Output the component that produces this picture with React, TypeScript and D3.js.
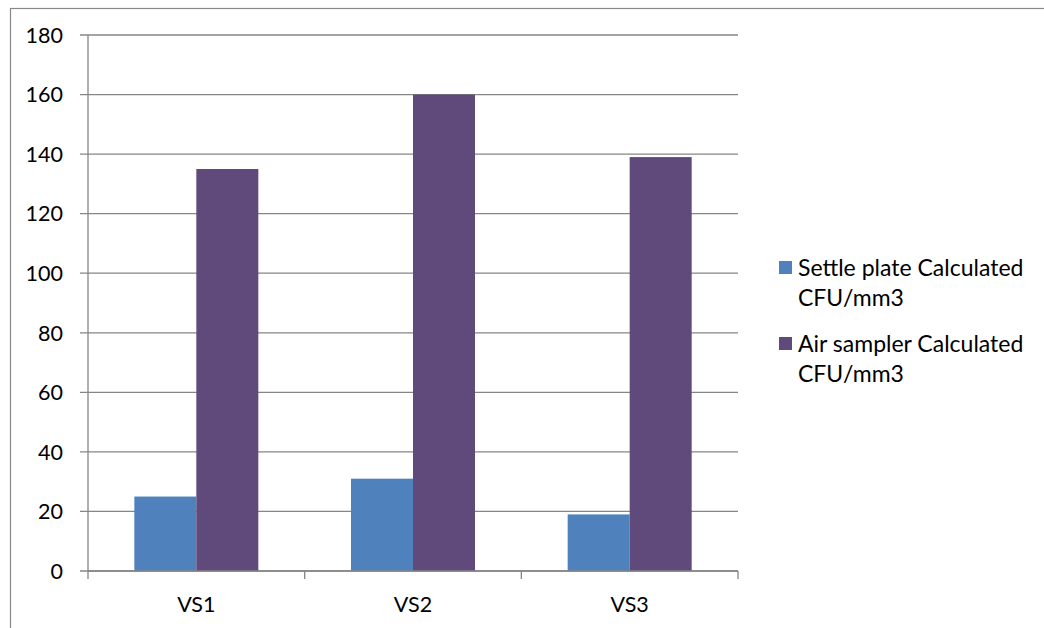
import React from "react";
import * as d3 from "d3";

const categories = ["VS1", "VS2", "VS3"];
const seriesNames = [
  ["Settle plate Calculated", "CFU/mm3"],
  ["Air sampler Calculated", "CFU/mm3"],
];
const settlePlate = [25, 31, 19];
const airSampler = [135, 160, 139];
const yTicks = [0, 20, 40, 60, 80, 100, 120, 140, 160, 180];
const colors = ["#4F81BD", "#604A7B"];

const W = 1044;
const H = 628;
const plot = { left: 88, right: 738, top: 35, bottom: 571 };
const font = "Lato, 'Open Sans', sans-serif";

export default function App() {
  const x = d3
    .scaleBand<string>()
    .domain(categories)
    .range([plot.left, plot.right])
    .paddingInner(0)
    .paddingOuter(0);
  const y = d3.scaleLinear().domain([0, 180]).range([plot.bottom, plot.top]);
  const groupWidth = 124;
  const inner = d3
    .scaleBand<number>()
    .domain([0, 1])
    .range([0, groupWidth]);
  const series = [settlePlate, airSampler];
  const grid = "#868686";

  const boundaries = [...categories.map((c) => x(c)!), plot.right];

  return (
    <svg
      width={W}
      height={H}
      style={{ position: "absolute", left: 0, top: 0, background: "#fff" }}
      fontFamily={font}
    >
      <rect x={10.5} y={8.5} width={W + 20} height={H + 20} fill="#fff" stroke="#888" strokeWidth={1.2} />
      {yTicks.map((t) => (
        <g key={t}>
          <line
            x1={plot.left - 8}
            x2={plot.right}
            y1={y(t)}
            y2={y(t)}
            stroke={grid}
            strokeWidth={1.3}
          />
          <text x={63} y={y(t)} dy="0.36em" textAnchor="end" fontSize={21.5} fill="#000">
            {t}
          </text>
        </g>
      ))}
      {categories.map((c, i) => {
        const x0 = x(c)! + (x.bandwidth() - groupWidth) / 2;
        return (
          <g key={c}>
            {series.map((s, k) => (
              <rect
                key={k}
                x={x0 + inner(k)!}
                y={y(s[i])}
                width={inner.bandwidth()}
                height={y(0) - y(s[i])}
                fill={colors[k]}
              />
            ))}
            <text
              x={x(c)! + x.bandwidth() / 2}
              y={612}
              textAnchor="middle"
              fontSize={21.5}
              fill="#000"
            >
              {c}
            </text>
          </g>
        );
      })}
      <line x1={plot.left} x2={plot.left} y1={plot.top} y2={plot.bottom} stroke={grid} strokeWidth={1.3} />
      <line x1={plot.left} x2={plot.right} y1={plot.bottom} y2={plot.bottom} stroke={grid} strokeWidth={1.3} />
      {boundaries.map((b, i) => (
        <line key={i} x1={b} x2={b} y1={plot.bottom} y2={plot.bottom + 8} stroke={grid} strokeWidth={1.3} />
      ))}
      {seriesNames.map((lines, k) => {
        const top = 261 + k * 76;
        return (
          <g key={k}>
            <rect x={779} y={top} width={13} height={13} fill={colors[k]} />
            {lines.map((ln, j) => (
              <text key={j} x={798} y={top + 15 + j * 30} fontSize={23} fill="#000">
                {ln}
              </text>
            ))}
          </g>
        );
      })}
    </svg>
  );
}
